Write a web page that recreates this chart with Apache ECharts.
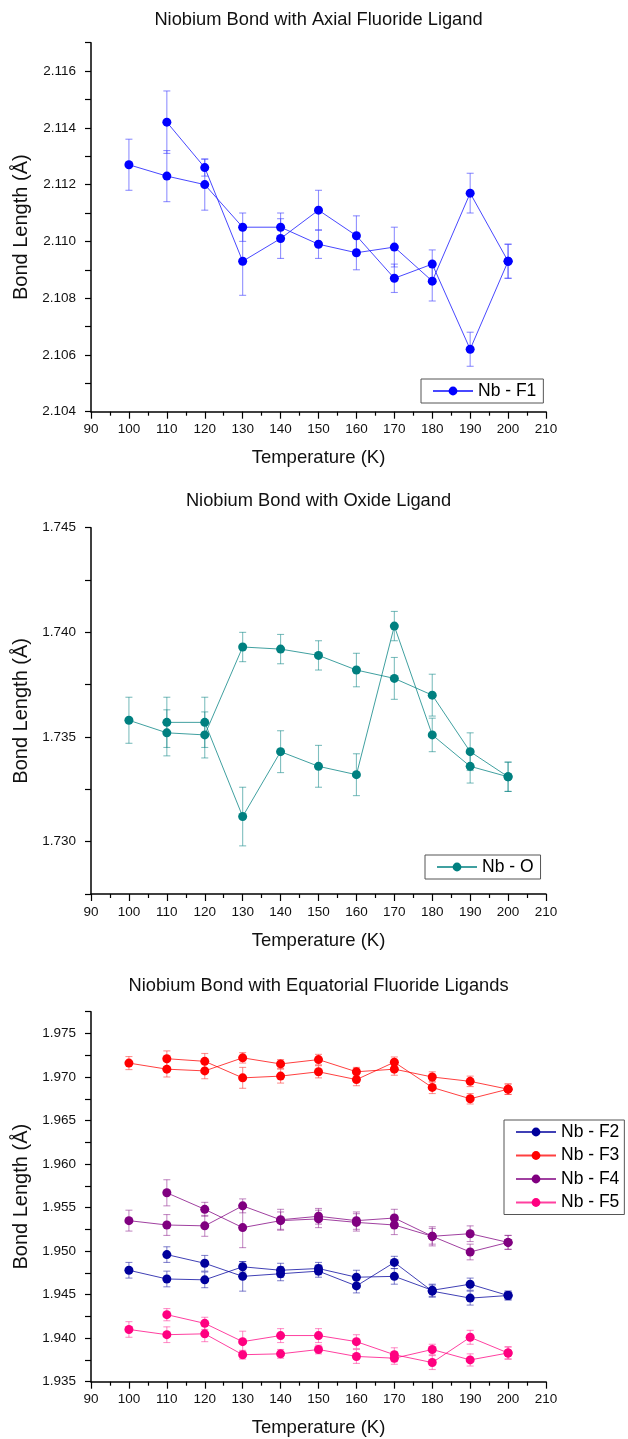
<!DOCTYPE html>
<html><head><meta charset="utf-8">
<script src="https://cdn.jsdelivr.net/npm/echarts@6/dist/echarts.min.js"></script>
<style>html,body{margin:0;padding:0;background:#fff}#c{width:628px;height:1439px}</style>
</head><body><div id="c"></div>
<script>
// ---------------- DATA ----------------
const temps = [100, 110, 120, 130, 140, 150, 160, 170, 180, 190, 200];

// Panel 1: Nb - F1 (axial fluoride)
const f1A    = [2.1127, 2.1123, 2.1120, 2.1105, 2.1105, 2.1099, 2.1096, 2.1098, 2.1086, 2.1117, 2.1093];
const f1AErr = [0.0009, 0.0009, 0.0009, 0.0005, 0.0005, 0.0005, 0.0006, 0.0007, 0.0007, 0.0007, 0.0006];
const f1B    = [null, 2.1142, 2.1126, 2.1093, 2.1101, 2.1111, 2.1102, 2.1087, 2.1092, 2.1062, 2.1093];
const f1BErr = [null, 0.0011, 0.0003, 0.0012, 0.0007, 0.0007, 0.0007, 0.0005, 0.0005, 0.0006, 0.0006];

// Panel 2: Nb - O (oxide)
const oA    = [1.7358, 1.7352, 1.7351, 1.7393, 1.7392, 1.7389, 1.7382, 1.7378, 1.7370, 1.7343, 1.7331];
const oAErr = [0.0011, 0.0011, 0.0011, 0.0007, 0.0007, 0.0007, 0.0008, 0.0010, 0.0010, 0.0009, 0.0007];
const oB    = [null, 1.7357, 1.7357, 1.7312, 1.7343, 1.7336, 1.7332, 1.7403, 1.7351, 1.7336, 1.7331];
const oBErr = [null, 0.0012, 0.0012, 0.0014, 0.0010, 0.0010, 0.0010, 0.0007, 0.0008, 0.0008, 0.0007];

// Panel 3: equatorial fluorides
const f2A    = [1.9478, 1.9468, 1.9467, 1.9482, 1.9478, 1.9480, 1.9470, 1.9471, 1.9455, 1.9462, 1.9449];
const f2AErr = [0.0009, 0.0009, 0.0009, 0.0006, 0.0008, 0.0007, 0.0008, 0.0009, 0.0007, 0.0007, 0.0005];
const f2B    = [null, 1.9496, 1.9486, 1.9471, 1.9474, 1.9477, 1.9460, 1.9487, 1.9454, 1.9446, 1.9449];
const f2BErr = [null, 0.0009, 0.0009, 0.0017, 0.0008, 0.0007, 0.0008, 0.0007, 0.0007, 0.0008, 0.0005];

const f3A    = [1.9716, 1.9709, 1.9707, 1.9722, 1.9715, 1.9720, 1.9706, 1.9709, 1.9700, 1.9695, 1.9686];
const f3AErr = [0.00075, 0.0009, 0.0009, 0.0006, 0.0005, 0.0006, 0.0005, 0.0007, 0.0006, 0.0006, 0.0006];
const f3B    = [null, 1.9721, 1.9718, 1.9699, 1.9701, 1.9706, 1.9697, 1.9717, 1.9688, 1.9675, 1.9686];
const f3BErr = [null, 0.0009, 0.0009, 0.0012, 0.0008, 0.0007, 0.0007, 0.0006, 0.0007, 0.0006, 0.0006];

const f4A    = [1.9535, 1.9530, 1.9529, 1.9552, 1.9536, 1.9540, 1.9535, 1.9538, 1.9517, 1.9520, 1.9510];
const f4AErr = [0.0012, 0.0012, 0.0012, 0.0008, 0.0012, 0.0009, 0.0010, 0.0010, 0.0011, 0.0009, 0.0008];
const f4B    = [null, 1.9567, 1.9548, 1.9527, 1.9535, 1.9537, 1.9533, 1.9530, 1.9517, 1.9499, 1.9510];
const f4BErr = [null, 0.0015, 0.0008, 0.0023, 0.0010, 0.0010, 0.0010, 0.0011, 0.0009, 0.0009, 0.0008];

const f5A    = [1.9410, 1.9404, 1.9405, 1.9381, 1.9382, 1.9387, 1.9379, 1.9377, 1.9387, 1.9375, 1.9383];
const f5AErr = [0.0009, 0.0009, 0.0009, 0.0005, 0.0005, 0.0005, 0.0008, 0.0007, 0.0006, 0.0007, 0.0007];
const f5B    = [null, 1.9427, 1.9417, 1.9396, 1.9403, 1.9403, 1.9396, 1.9381, 1.9372, 1.9401, 1.9383];
const f5BErr = [null, 0.0007, 0.0007, 0.0012, 0.0008, 0.0008, 0.0008, 0.0008, 0.0008, 0.0008, 0.0007];

const titles = ['Niobium Bond with Axial Fluoride Ligand', 'Niobium Bond with Oxide Ligand', 'Niobium Bond with Equatorial Fluoride Ligands'];
const xTitle = 'Temperature (K)';
const yTitle = 'Bond Length (Å)';

// ---------------- LAYOUT / STYLE ----------------
const FONT = '"Liberation Sans", Arial, Helvetica, sans-serif';
const panels = [
  { top: 42.7, height: 369, yMin: 2.104, yMax: 2.117, yInt: 0.001, labStep: 0.002, titleTop: 11 },
  { top: 527.7, height: 366.3, yMin: 1.7275, yMax: 1.745, yInt: 0.0025, labStep: 0.005, titleTop: 492 },
  { top: 1011.7, height: 370, yMin: 1.935, yMax: 1.9775, yInt: 0.0025, labStep: 0.005, titleTop: 977 }
];
const seriesDefs = [
  { name: 'Nb - F1', panel: 0, color: '#0000FF', line: 'rgba(40,40,255,0.85)', err: 'rgba(70,70,255,0.6)', runs: [[f1A, f1AErr], [f1B, f1BErr]] },
  { name: 'Nb - O',  panel: 1, color: '#008080', line: 'rgba(0,128,128,0.75)', err: 'rgba(0,128,128,0.5)', runs: [[oA, oAErr], [oB, oBErr]] },
  { name: 'Nb - F2', panel: 2, color: '#00009C', line: 'rgba(0,0,156,0.75)', err: 'rgba(40,40,170,0.55)', runs: [[f2A, f2AErr], [f2B, f2BErr]] },
  { name: 'Nb - F3', panel: 2, color: '#FF0000', line: 'rgba(255,0,0,0.75)', err: 'rgba(255,40,40,0.5)', runs: [[f3A, f3AErr], [f3B, f3BErr]] },
  { name: 'Nb - F4', panel: 2, color: '#800080', line: 'rgba(128,0,128,0.75)', err: 'rgba(140,30,140,0.5)', runs: [[f4A, f4AErr], [f4B, f4BErr]] },
  { name: 'Nb - F5', panel: 2, color: '#FF0080', line: 'rgba(255,0,128,0.75)', err: 'rgba(255,40,150,0.5)', runs: [[f5A, f5AErr], [f5B, f5BErr]] }
];

const chart = echarts.init(document.getElementById('c'), null, { renderer: 'canvas' });

const grid = [], xAxis = [], yAxis = [], title = [], series = [];
panels.forEach((p, i) => {
  grid.push({ left: 91, right: 82, top: p.top, height: p.height, containLabel: false });
  title.push({ text: titles[i], left: 318.5, textAlign: 'center', top: p.titleTop, padding: 0,
    textStyle: { fontFamily: FONT, fontSize: 18.3, fontWeight: 'normal', color: '#111' } });
  xAxis.push({
    type: 'value', gridIndex: i, min: 90, max: 210, interval: 10,
    name: xTitle, nameLocation: 'middle', nameGap: 37,
    nameTextStyle: { fontFamily: FONT, fontSize: 18.5, color: '#111' },
    axisLine: { show: true, onZero: false, lineStyle: { color: '#000', width: 1.5 } },
    axisTick: { show: true, inside: false, length: 7, lineStyle: { color: '#000', width: 1.2 } },
    minorTick: { show: true, splitNumber: 2, length: 4, lineStyle: { color: '#000', width: 1.2 } },
    axisLabel: { fontFamily: FONT, fontSize: 13.5, color: '#111', margin: 11 },
    splitLine: { show: false }, minorSplitLine: { show: false }
  });
  const step = p.labStep;
  yAxis.push({
    type: 'value', gridIndex: i, min: p.yMin, max: p.yMax, interval: p.yInt,
    name: yTitle, nameLocation: 'middle', nameGap: 52,
    nameTextStyle: { fontFamily: FONT, fontSize: 20, color: '#111' },
    axisLine: { show: true, onZero: false, lineStyle: { color: '#000', width: 1.5 } },
    axisTick: { show: true, inside: false, length: 6, lineStyle: { color: '#000', width: 1.2 } },
    axisLabel: { fontFamily: FONT, fontSize: 13.5, color: '#111', margin: 15, showMaxLabel: true, showMinLabel: true,
      formatter: v => { const k = Math.round(v / step); return Math.abs(v - k * step) < 1e-7 ? v.toFixed(3) : ''; } },
    splitLine: { show: false }
  });
});

function makeErr(color) {
  return function (params, api) {
    const x = api.value(0), lo = api.value(1), hi = api.value(2);
    const a = api.coord([x, lo]), b = api.coord([x, hi]);
    const hw = 3.5;
    const st = { stroke: color, lineWidth: 1.1, fill: null };
    return { type: 'group', children: [
      { type: 'line', shape: { x1: a[0], y1: a[1], x2: b[0], y2: b[1] }, style: st },
      { type: 'line', shape: { x1: a[0] - hw, y1: a[1], x2: a[0] + hw, y2: a[1] }, style: st },
      { type: 'line', shape: { x1: b[0] - hw, y1: b[1], x2: b[0] + hw, y2: b[1] }, style: st }
    ] };
  };
}

seriesDefs.forEach(sd => {
  sd.runs.forEach(([vals, errs]) => {
    const pts = [], eb = [];
    temps.forEach((t, k) => {
      if (vals[k] == null) return;
      pts.push([t, vals[k]]);
      eb.push([t, vals[k] - errs[k], vals[k] + errs[k]]);
    });
    series.push({
      type: 'custom', name: sd.name + ' err', xAxisIndex: sd.panel, yAxisIndex: sd.panel,
      renderItem: makeErr(sd.err), data: eb, encode: { x: 0, y: [1, 2] }, z: 1, silent: true
    });
    series.push({
      type: 'line', name: sd.name, xAxisIndex: sd.panel, yAxisIndex: sd.panel, data: pts,
      symbol: 'circle', symbolSize: 9, showSymbol: true,
      itemStyle: { color: sd.color },
      lineStyle: { color: sd.line, width: 1 }, z: 3
    });
  });
});

const legendBase = {
  orient: 'vertical', itemWidth: 40, itemHeight: 11, itemGap: 5.5,
  borderColor: '#555', borderWidth: 1, backgroundColor: '#fff',
  textStyle: { fontFamily: FONT, fontSize: 17.5, color: '#000' }, selectedMode: false
};
const legend = [
  Object.assign({}, legendBase, { data: ['Nb - F1'], left: 421, top: 379, padding: [3, 7, 3, 11] }),
  Object.assign({}, legendBase, { data: ['Nb - O'], left: 425, top: 855, padding: [3, 7, 3, 11] }),
  Object.assign({}, legendBase, { data: ['Nb - F2', 'Nb - F3', 'Nb - F4', 'Nb - F5'], left: 504, top: 1120, padding: [3, 5, 3, 11] })
];

chart.setOption({
  animation: false, backgroundColor: '#fff',
  title, grid, xAxis, yAxis, legend, series
});
</script></body></html>
